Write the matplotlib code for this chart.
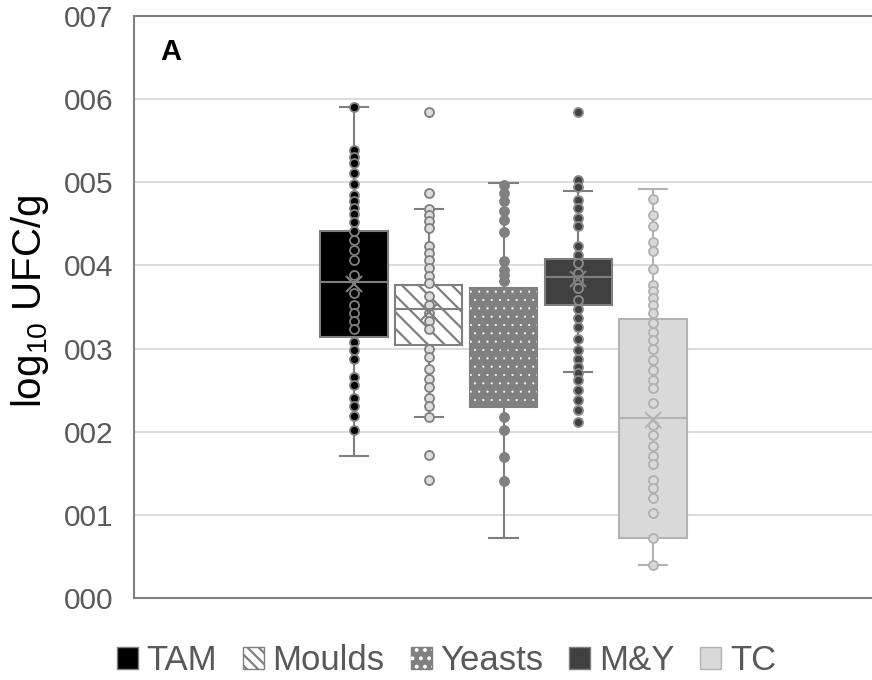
import numpy as np
import matplotlib
matplotlib.use("Agg")
import matplotlib.pyplot as plt
from matplotlib.patches import Patch, PathPatch

plt.rcParams['font.family'] = ['Liberation Sans', 'DejaVu Sans']
plt.rcParams['mathtext.default'] = 'regular'
plt.rcParams['hatch.linewidth'] = 1.6

# categories and values
groups = ['TAM', 'Moulds', 'Yeasts', 'M&Y', 'TC']

tam = [5.90, 5.39, 5.31, 5.23, 5.11, 4.98, 4.85, 4.77, 4.69, 4.62, 4.52, 4.41,
       4.31, 4.19, 4.07, 3.89, 3.67, 3.53, 3.43, 3.33, 3.23, 3.08, 2.98, 2.87,
       2.66, 2.56, 2.40, 2.31, 2.19, 2.02]
moulds = [5.85, 4.87, 4.68, 4.61, 4.53, 4.45, 4.23, 4.15, 4.07, 3.97, 3.87, 3.79,
          3.63, 3.53, 3.43, 3.33, 3.23, 3.00, 2.90, 2.76, 2.64, 2.54, 2.40, 2.31,
          2.18, 1.72, 1.42]
yeasts = [4.97, 4.87, 4.77, 4.65, 4.55, 4.40, 4.05, 3.95, 3.89, 3.81, 2.18, 2.02,
          1.70, 1.41]
my = [5.85, 5.03, 4.94, 4.79, 4.69, 4.57, 4.47, 4.23, 4.13, 4.03, 3.91, 3.83,
      3.73, 3.59, 3.47, 3.37, 3.26, 3.12, 2.98, 2.88, 2.78, 2.71, 2.62, 2.50,
      2.38, 2.26, 2.12]
tc = [4.80, 4.61, 4.47, 4.28, 4.17, 3.96, 3.77, 3.69, 3.61, 3.53, 3.43, 3.31,
      3.20, 3.10, 3.00, 2.86, 2.74, 2.62, 2.52, 2.35, 2.08, 1.96, 1.83, 1.71,
      1.61, 1.42, 1.32, 1.20, 1.02, 0.72, 0.40]
points = [tam, moulds, yeasts, my, tc]

# box statistics as drawn (Excel quartiles)
q1 = [3.145, 3.045, 2.295, 3.526, 0.718]
med = [3.80, 3.474, 3.14, 3.86, 2.16]
q3 = [4.416, 3.766, 3.727, 4.075, 3.35]
whislo = [1.71, 2.18, 0.718, 2.716, 0.40]
whishi = [5.90, 4.68, 4.99, 4.90, 4.92]
means = [3.78, 3.44, 3.05, 3.84, 2.14]

yticks = [0, 1, 2, 3, 4, 5, 6, 7]

box_fc = ['#000000', '#ffffff', '#808080', '#404040', '#d9d9d9']
box_ec = ['#7f7f7f', '#7f7f7f', '#7f7f7f', '#7f7f7f', '#b3b3b3']
hatches = [None, '\\\\', '..', None, None]
hatch_c = [None, '#7f7f7f', '#ffffff', None, None]
hatch_lw = [None, 1.6, 0.3, None, None]
pt_fc = ['#000000', '#dcdcdc', '#808080', '#404040', '#d9d9d9']
pt_ec = ['#808080', '#7f7f7f', '#808080', '#8a8a8a', '#b0b0b0']
line_c = ['#7f7f7f', '#7f7f7f', '#7f7f7f', '#7f7f7f', '#b3b3b3']

fig = plt.figure(figsize=(8.72, 6.80), dpi=100)
ax = fig.add_axes([134 / 872, 82 / 680, 1 - 134 / 872, 582 / 680])

pos = np.arange(1, len(groups) + 1)
for i in range(len(groups)):
    st = [dict(label=groups[i], q1=q1[i], med=med[i], q3=q3[i],
               whislo=whislo[i], whishi=whishi[i], mean=means[i])]
    res = ax.bxp(st, positions=[pos[i]], widths=0.9, patch_artist=True,
                 showmeans=True, showfliers=False, capwidths=0.38,
                 boxprops=dict(facecolor=box_fc[i], edgecolor=box_ec[i], lw=1.5),
                 whiskerprops=dict(color=line_c[i], lw=1.5),
                 capprops=dict(color=line_c[i], lw=1.5),
                 medianprops=dict(color=line_c[i], lw=1.5),
                 meanprops=dict(marker='x', markersize=11, markeredgecolor=line_c[i],
                                markeredgewidth=1.5))
    box = res['boxes'][0]
    box.set_zorder(2)
    for key in ['whiskers', 'caps']:
        for ln in res[key]:
            ln.set_zorder(1.5)
    res['medians'][0].set_zorder(4)
    res['means'][0].set_zorder(5)
    if hatches[i]:
        with plt.rc_context({'hatch.linewidth': hatch_lw[i]}):
            hp = PathPatch(box.get_path(), facecolor='none', edgecolor=hatch_c[i],
                           hatch=hatches[i], lw=0, zorder=2.1)
            ax.add_patch(hp)
    ax.scatter(np.full(len(points[i]), pos[i]), points[i], s=42,
               facecolor=pt_fc[i], edgecolor=pt_ec[i], linewidth=1.3, zorder=3)

ax.set_xlim(1 - 220 / 74.75, 1 + 518 / 74.75)
ax.set_ylim(0, 7)
ax.set_xticks([])
ax.set_yticks(yticks)
ax.set_yticklabels(['%03d' % v for v in yticks])
ax.tick_params(axis='y', length=0, pad=15, labelsize=21.5, labelcolor='#595959')
ax.yaxis.grid(True, color='#d9d9d9', lw=1.3)
ax.set_axisbelow(True)
for s in ['left', 'bottom', 'top']:
    ax.spines[s].set_color('#808080')
    ax.spines[s].set_linewidth(1.5)
ax.spines['right'].set_visible(False)

ax.set_ylabel('log$_{10}$ UFC/g', fontsize=29, color='#000000')
ax.yaxis.set_label_coords(-0.112, 0.51)
ax.text(0.035, 0.962, 'A', transform=ax.transAxes, fontsize=21, fontweight='bold',
        ha='left', va='top')

with plt.rc_context({'hatch.linewidth': 0.4}):
    yeast_dots = Patch(facecolor='none', edgecolor='#ffffff', hatch='..', lw=0)
handles = [
    Patch(facecolor='#000000', edgecolor='#7f7f7f'),
    Patch(facecolor='#ffffff', edgecolor='#7f7f7f', hatch='\\\\\\'),
    (Patch(facecolor='#808080', edgecolor='#7f7f7f'), yeast_dots),
    Patch(facecolor='#404040', edgecolor='#7f7f7f'),
    Patch(facecolor='#d9d9d9', edgecolor='#b3b3b3'),
]
leg = fig.legend(handles, groups, loc='center', bbox_to_anchor=(0.512, 0.028), ncol=5,
                 frameon=False, fontsize=25, handlelength=0.6, handleheight=0.6,
                 handletextpad=0.25, columnspacing=0.75, borderaxespad=0)
for t in leg.get_texts():
    t.set_color('#595959')

fig.savefig('out.png', dpi=100)
